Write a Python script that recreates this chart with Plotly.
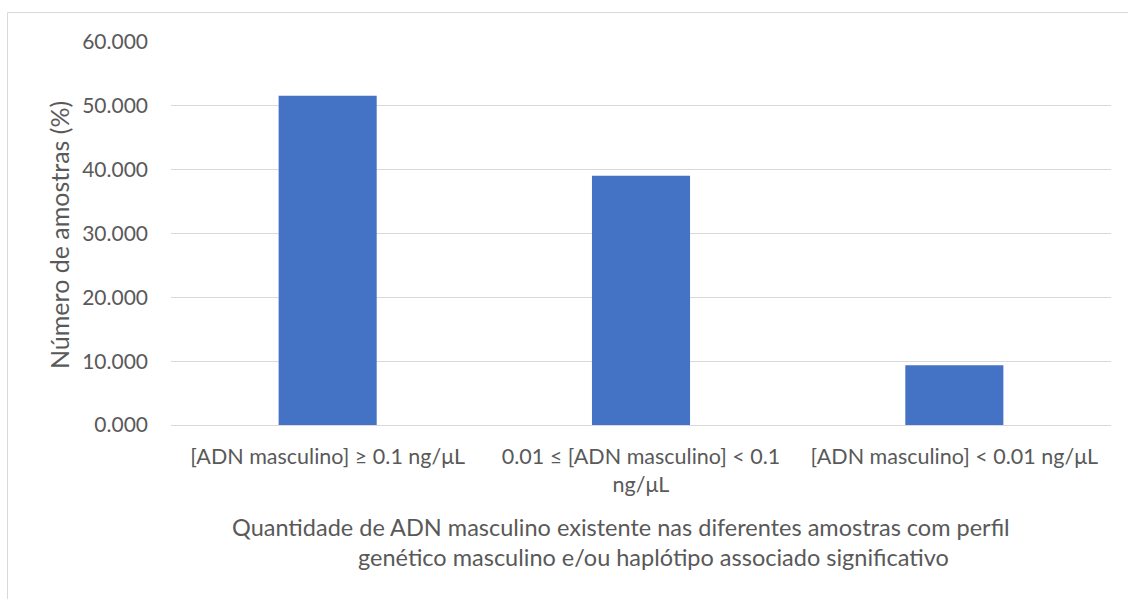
import plotly.graph_objects as go

# Share of samples per male-DNA concentration class (%)
categories = [
    "[ADN masculino] ≥ 0.1 ng/μL",
    "0.01 ≤ [ADN masculino] < 0.1<br>ng/μL",
    "[ADN masculino] < 0.01 ng/μL",
]
percent_samples = [51.5625, 39.0625, 9.375]
y_tick_values = [0, 10, 20, 30, 40, 50, 60]
y_tick_labels = ["0.000", "10.000", "20.000", "30.000", "40.000", "50.000", "60.000"]
y_title = "Número de amostras (%)"
x_title_lines = [
    "Quantidade de ADN masculino existente nas diferentes amostras com perfil",
    "genético masculino e/ou haplótipo associado significativo",
]

FONT = "Lato, Carlito, Calibri, sans-serif"
TEXT_COLOR = "#595959"

W, H = 1128, 599
L, R, T, B = 171, 17, 42, 174

fig = go.Figure(
    go.Bar(
        x=categories,
        y=percent_samples,
        marker=dict(color="#4472C4", line=dict(width=0)),
        width=0.313,
    )
)

fig.update_layout(
    width=W,
    height=H,
    margin=dict(l=L, r=R, t=T, b=B, pad=0),
    paper_bgcolor="white",
    plot_bgcolor="white",
    showlegend=False,
    font=dict(family=FONT, color=TEXT_COLOR, size=21),
)

fig.update_yaxes(
    range=[0, 60],
    tickvals=y_tick_values,
    ticktext=y_tick_labels,
    showgrid=True,
    gridcolor="#D9D9D9",
    gridwidth=1,
    zeroline=False,
    showline=False,
    ticks="",
    ticklabelstandoff=22,
    tickfont=dict(size=21, color=TEXT_COLOR),
    fixedrange=True,
)

fig.update_xaxes(
    showline=True,
    linecolor="#D9D9D9",
    linewidth=1,
    ticks="",
    showgrid=False,
    tickfont=dict(size=21.5, color=TEXT_COLOR),
    ticklabelstandoff=12,
    fixedrange=True,
)

plot_w = W - L - R
plot_h = H - T - B

# Y-axis title
fig.add_annotation(
    text=y_title,
    xref="paper", yref="paper",
    x=(59 - L) / plot_w, y=(H - B - 235) / plot_h,
    textangle=-90,
    showarrow=False,
    font=dict(size=25, color=TEXT_COLOR, family=FONT),
    xanchor="center", yanchor="middle",
)

# X-axis title, two centred lines
for line_text, cx, cy in [(x_title_lines[0], 621, 527), (x_title_lines[1], 653, 557)]:
    fig.add_annotation(
        text=line_text,
        xref="paper", yref="paper",
        x=(cx - L) / plot_w, y=(H - B - cy) / plot_h,
        showarrow=False,
        font=dict(size=23.5, color=TEXT_COLOR, family=FONT),
        xanchor="center", yanchor="middle",
    )

# Chart area border
fig.add_shape(
    type="rect",
    xref="paper", yref="paper",
    x0=(7.5 - L) / plot_w, x1=(W + 5 - L) / plot_w,
    y0=(H - B - (H + 5)) / plot_h, y1=(H - B - 12.5) / plot_h,
    line=dict(color="#D9D9D9", width=1),
    fillcolor="rgba(0,0,0,0)",
    layer="below",
)

fig.write_html("out.html")
